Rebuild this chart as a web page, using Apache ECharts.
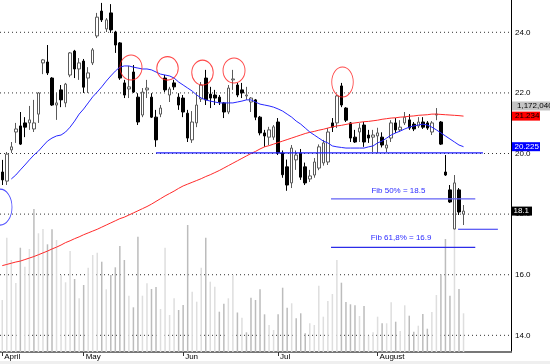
<!DOCTYPE html>
<html><head><meta charset="utf-8">
<script src="https://cdn.jsdelivr.net/npm/echarts@6/dist/echarts.min.js"></script>
<style>html,body{margin:0;padding:0;background:#fff}#c{width:550px;height:364px}</style>
</head><body><div id="c"></div>
<script>
// ---------- data ----------
const dayCount = 113;
const monthLabels = ['April', 'May', 'Jun', 'Jul', 'August'];
const monthStartIndex = [0, 18, 40, 61, 83];
const priceTicks = [14, 16, 18, 20, 22, 24];

const opens = [19.39,19.09,20.12,20.71,20.91,21.01,21.01,20.81,21.30,22.99,
23.02,22.49,21.60,22.10,21.67,22.59,23.38,22.79,23.05,22.49,
22.99,23.88,24.70,24.11,24.64,24.01,23.65,22.33,22.13,22.69,
21.86,21.27,22.10,21.86,21.20,21.30,22.49,21.93,22.33,21.86,
21.83,21.33,20.45,21.01,21.80,22.49,21.96,21.93,21.86,21.67,
21.37,22.43,22.26,22.10,21.90,21.70,21.77,21.20,20.68,20.54,
20.54,21.04,20.02,19.56,19.03,19.79,20.02,19.56,19.16,19.29,
19.52,19.69,19.72,21.01,21.01,22.23,21.50,21.01,20.54,20.71,
20.94,20.61,20.54,20.58,20.54,20.18,20.51,21.01,20.78,21.01,
21.11,20.97,20.91,21.04,21.01,20.71,21.27,21.04,19.39,18.80,
17.51,18.80,18.00];
const closes = [19.13,19.98,20.22,20.81,20.31,20.87,21.11,21.01,22.00,23.09,
22.66,21.60,21.67,21.77,22.29,23.32,22.79,22.99,22.19,22.66,
23.42,24.50,24.41,24.41,24.08,23.58,22.49,21.93,22.20,22.03,
21.04,22.03,22.16,21.20,20.45,21.50,22.10,22.13,22.20,21.60,
21.37,20.51,21.04,21.60,22.26,21.77,21.83,21.83,21.70,21.37,
22.16,22.46,21.93,22.00,21.93,21.83,21.20,20.68,20.58,20.78,
20.88,20.02,19.30,18.96,20.18,19.95,19.22,19.03,19.26,19.72,
20.22,20.35,20.71,20.87,21.90,21.60,21.10,20.51,20.38,20.84,
20.38,20.51,20.61,20.68,20.28,20.28,21.01,20.78,20.87,21.20,
20.84,20.81,21.04,20.87,20.84,21.01,21.30,20.31,19.29,18.40,
19.03,18.07,18.10];
const lows = [18.96,18.96,20.02,20.35,20.28,20.54,20.78,20.71,21.01,22.62,
22.59,21.57,21.11,21.53,21.53,22.52,22.49,22.43,22.00,22.00,
22.92,23.81,24.34,24.01,23.98,23.32,22.43,21.83,21.83,22.00,
20.94,21.20,21.83,21.17,20.22,21.20,22.03,21.70,22.10,21.44,
21.20,20.38,20.35,20.87,21.70,21.60,21.50,21.60,21.60,21.17,
21.30,22.10,21.86,21.83,21.77,21.37,21.10,20.60,20.22,20.28,
20.45,19.95,19.20,18.77,18.86,19.46,19.13,18.96,19.06,19.20,
19.45,19.60,19.62,20.71,20.84,21.53,21.04,20.38,20.35,20.38,
20.22,20.35,20.05,20.01,20.20,20.05,20.38,20.68,20.71,20.94,
20.78,20.74,20.84,20.81,20.78,20.61,21.10,20.28,19.26,18.37,
17.50,17.97,17.64];
const highs = [19.79,20.05,20.38,21.01,21.37,21.20,21.57,21.77,22.03,23.12,
23.58,22.52,22.00,22.26,22.33,23.35,23.42,23.15,23.12,22.85,
23.48,24.64,24.97,24.47,24.93,24.05,23.68,22.43,22.89,22.92,
21.99,22.16,22.43,21.99,21.44,21.60,22.59,22.20,22.43,21.99,
21.93,21.44,21.40,22.03,22.36,22.76,22.20,22.10,21.93,21.70,
22.26,22.76,22.33,22.33,22.20,21.86,21.80,21.24,20.78,20.88,
20.94,21.17,20.10,19.80,20.28,20.10,20.15,19.70,19.46,19.85,
20.30,20.45,20.84,21.17,21.93,22.33,21.53,21.04,20.78,21.00,
21.04,20.78,20.78,20.85,20.70,20.45,21.10,21.17,21.10,21.37,
21.30,21.04,21.20,21.20,21.07,21.07,21.50,21.07,19.95,18.96,
19.29,18.86,18.30];
// volume in thousands of shares
const volumes = [1576,3463,2788,2091,3160,2585,3121,4333,3597,3727,
3263,3718,3394,2333,2112,3060,2212,1627,2030,2554,
2939,3009,2736,1900,2333,2566,3212,2788,1706,1354,
3494,1706,2082,1909,1970,1303,3160,1121,1627,1273,
1424,3848,1827,1524,2554,3463,2130,1979,1221,1463,
1627,2333,1197,1039,597,1645,1576,1900,1142,818,
667,1142,1948,1342,1476,1021,1173,567,870,818,
2009,1070,1545,1757,2788,2100,1515,1445,1415,1091,
1394,494,597,1070,870,870,1506,918,636,1415,
1100,615,797,1151,706,1212,1727,2354,3424,1706,
5212,1909,1172.04];
const maBlue = ['-','-',19.16,19.29,19.46,19.62,19.79,19.95,20.08,20.25,
20.41,20.51,20.58,20.61,20.71,20.87,21.07,21.30,21.47,21.67,
21.87,22.03,22.20,22.39,22.56,22.72,22.85,22.89,22.89,22.85,
22.82,22.79,22.79,22.76,22.69,22.62,22.59,22.56,22.49,22.36,
22.26,22.16,22.06,21.93,21.83,21.77,21.73,21.70,21.67,21.67,
21.67,21.67,21.70,21.73,21.77,21.77,21.70,21.63,21.60,21.57,
21.53,21.47,21.40,21.30,21.20,21.07,20.97,20.84,20.71,20.61,
20.51,20.41,20.35,20.25,20.22,20.20,20.18,20.18,20.18,20.18,
20.18,20.22,20.25,20.35,20.41,20.51,20.61,20.68,20.74,20.81,
20.87,20.91,20.94,20.97,20.94,20.87,20.78,20.68,20.58,20.48,
20.38,20.28,20.225];
const maRed = [16.30,16.34,16.38,16.42,16.45,16.50,16.55,16.60,16.66,16.72,
16.78,16.85,16.91,16.98,17.06,17.12,17.19,17.25,17.32,17.38,
17.44,17.50,17.57,17.64,17.71,17.78,17.85,17.90,17.97,18.04,
18.11,18.18,18.25,18.33,18.42,18.51,18.60,18.68,18.76,18.85,
18.93,18.99,19.05,19.11,19.17,19.24,19.30,19.37,19.44,19.52,
19.60,19.68,19.76,19.84,19.92,20.00,20.07,20.15,20.22,20.26,
20.31,20.36,20.41,20.46,20.51,20.56,20.61,20.66,20.70,20.73,
20.77,20.80,20.84,20.88,20.91,20.93,20.96,20.99,21.01,21.03,
21.05,21.06,21.08,21.10,21.13,21.15,21.17,21.18,21.20,21.21,
21.23,21.24,21.26,21.27,21.28,21.30,21.30,21.29,21.28,21.27,
21.26,21.25,21.234];
// annotation lines: [fromDay, toDay, level]
const supportLine = [34, 106.3, 20.02];
const fibLines = [[72.7, 104.6, 18.5], [72.7, 104.6, 16.9]];
const fibTexts = ['Fib 50% = 18.5', 'Fib 61,8% = 16.9'];
const lowLine = [100.8, 109.6, 17.5];
// highlighted tops (day, price) and the early low
const redCircles = [[28.47, 22.84], [36.54, 22.81], [44.28, 22.67], [51.25, 22.74], [75.24, 22.36]];
const blueCircles = [[-0.5, 18.23]];

// ---------- chart ----------
const FONT = 'Liberation Sans, Arial, sans-serif';
const categories = Array.from({length: dayCount}, (_, i) => String(i));
const candleData = opens.map((o, i) => [o, closes[i], lows[i], highs[i]]);
const volumeData = volumes.map((v, i) => ({
  value: v,
  itemStyle: {color: (i > 0 && closes[i] < closes[i - 1]) ? '#bcbcbc' : '#dedede'}
}));
const isMonthStart = (idx) => monthStartIndex.indexOf(idx) >= 0;
const redSizes = [[22, 25], [21.5, 23.5], [21.5, 25], [22, 25], [21.5, 30]];

const hLine = (seg, color, width) => ({
  type: 'line', xAxisIndex: 1, yAxisIndex: 0, data: [[seg[0], seg[2]], [seg[1], seg[2]]],
  symbol: 'none', silent: true, z: 6, lineStyle: {color: color, width: width}
});
// dotted grid at price ticks, one series each, spanning the full day range
const gridLines = priceTicks.map(t => ({
  type: 'line', xAxisIndex: 1, yAxisIndex: 0, data: [[-0.5, t], [dayCount - 0.5, t]],
  symbol: 'none', silent: true, z: 0, lineStyle: {type: [1, 3], color: '#333', width: 1}
}));

const chart = echarts.init(document.getElementById('c'), null, {renderer: 'canvas'});
const option = {
  animation: false,
  backgroundColor: '#ffffff',
  grid: {left: 0, right: 39, top: 0, bottom: 12, containLabel: false, outerBoundsMode: 'none'},
  xAxis: [{
    type: 'category', data: categories, boundaryGap: true, gridIndex: 0,
    axisLine: {show: true, onZero: false, lineStyle: {color: '#777', width: 2}},
    axisTick: {show: true, alignWithLabel: true, length: 4, interval: (i) => isMonthStart(i), lineStyle: {color: '#333'}},
    axisLabel: {show: true, interval: (i) => isMonthStart(i), align: 'left', margin: 1, padding: [0, 0, 0, 2],
      fontSize: 8, fontFamily: FONT, color: '#000',
      formatter: (v) => { const m = monthStartIndex.indexOf(Number(v)); return m >= 0 ? monthLabels[m] : ''; }},
    splitLine: {show: false}
  }, {
    type: 'value', min: -0.5, max: dayCount - 0.5, show: false, gridIndex: 0,
    axisLine: {show: false, onZero: false}, axisTick: {show: false}, axisLabel: {show: false}, splitLine: {show: false}
  }],
  yAxis: [{
    type: 'value', position: 'right', min: 13.45, max: 25.066, scale: true,
    axisLine: {show: true, onZero: false, lineStyle: {color: '#000', width: 1}},
    axisTick: {show: false},
    splitLine: {show: false},
    axisLabel: {show: true, margin: 4, fontSize: 8, fontFamily: FONT, color: '#000',
      formatter: (v) => priceTicks.some(t => Math.abs(t - v) < 1e-6) ? v.toFixed(1) : ''}
  }, {
    type: 'value', min: 0, max: 10666, show: false, position: 'right',
    axisLine: {show: false, onZero: false}, axisTick: {show: false}, axisLabel: {show: false}, splitLine: {show: false}
  }],
  series: gridLines.concat([
    {
      type: 'bar', name: 'volume', xAxisIndex: 0, yAxisIndex: 1, data: volumeData, barWidth: 1.5,
      silent: true, z: 1
    },
    {
      type: 'candlestick', name: 'price', xAxisIndex: 0, yAxisIndex: 0, data: candleData,
      barWidth: 3, silent: true, z: 3,
      itemStyle: {color: '#ffffff', color0: '#000000', borderColor: '#5a5a5a', borderColor0: '#000000', borderWidth: 1}
    },
    {
      type: 'line', name: 'maRed', xAxisIndex: 0, yAxisIndex: 0, data: maRed, symbol: 'none',
      silent: true, z: 4, lineStyle: {color: '#ff2a2a', width: 1}
    },
    {
      type: 'line', name: 'maBlue', xAxisIndex: 0, yAxisIndex: 0, data: maBlue, symbol: 'none',
      silent: true, z: 4, lineStyle: {color: '#2626ff', width: 1}
    },
    hLine(supportLine, '#1f1fff', 1.2),
    hLine(fibLines[0], '#6262f5', 1.2),
    hLine(fibLines[1], '#2c2ce8', 1.2),
    hLine(lowLine, '#2c2cf0', 1.2),
    {
      type: 'scatter', xAxisIndex: 1, yAxisIndex: 0, data: redCircles, clip: false, silent: true, z: 7,
      symbol: 'circle', symbolSize: (v, p) => redSizes[p.dataIndex],
      itemStyle: {color: 'rgba(0,0,0,0)', borderColor: '#ff1a1a', borderWidth: 1}
    },
    {
      type: 'scatter', xAxisIndex: 1, yAxisIndex: 0, data: blueCircles, clip: false, silent: true, z: 7,
      symbol: 'circle', symbolSize: [24, 36],
      itemStyle: {color: 'rgba(0,0,0,0)', borderColor: '#1f1fff', borderWidth: 1}
    }
  ])
};
chart.setOption(option);

// value tags on the right axis + fib texts, positioned through the axes
const yPix = (v) => chart.convertToPixel({yAxisIndex: 0}, v);
const xPix = (d) => chart.convertToPixel({xAxisIndex: 1}, d);
const axisX = xPix(dayCount - 0.5);
const last = closes.length - 1;
const fmtVol = Math.round(volumes[last] * 1000).toLocaleString('en-US');
const tag = (y, w, tx, text, fill, textFill) => [
  {type: 'rect', shape: {x: axisX + 1, y: y - 4.5, width: w, height: 9}, style: {fill: fill}, z: 100, silent: true},
  {type: 'text', x: axisX + tx, y: y, z: 101, silent: true,
   style: {text: text, fill: textFill, font: '8px ' + FONT, align: 'left', verticalAlign: 'middle', textVerticalAlign: 'middle'}}
];
const graphics = [].concat(
  tag(106, 40, 6, fmtVol, '#c4c4c4', '#000'),
  tag(yPix(maRed[last]), 28, 4, maRed[last].toFixed(3), '#ff0000', '#000'),
  tag(yPix(maBlue[last]), 28, 3.5, maBlue[last].toFixed(3), '#0000ff', '#fff'),
  tag(yPix(closes[last]), 20, 2.5, closes[last].toFixed(1), '#000000', '#fff'),
  [
    {type: 'text', x: xPix(87.6), y: yPix(fibLines[0][2]) - 8, z: 101, silent: true,
     style: {text: fibTexts[0], fill: '#2c2cff', font: '8px ' + FONT, align: 'center', verticalAlign: 'middle', textAlign: 'center', textVerticalAlign: 'middle'}},
    {type: 'text', x: xPix(88.2), y: yPix(fibLines[1][2]) - 10, z: 101, silent: true,
     style: {text: fibTexts[1], fill: '#2c2cff', font: '8px ' + FONT, align: 'center', verticalAlign: 'middle', textAlign: 'center', textVerticalAlign: 'middle'}},
    {type: 'rect', shape: {x: 0, y: 361, width: 550, height: 3}, style: {fill: '#efefef'}, z: 0, silent: true}
  ]
);
chart.setOption({graphic: graphics});
</script>
</body></html>
